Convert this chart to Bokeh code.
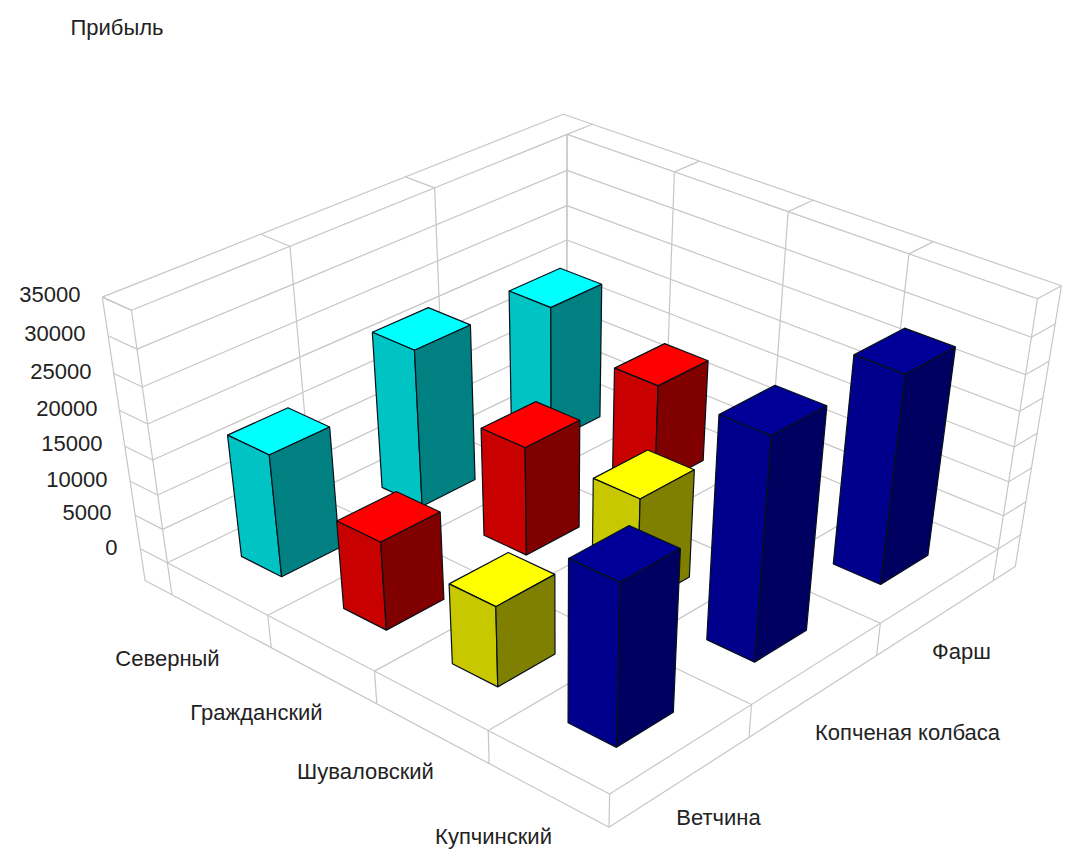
import numpy as np
from bokeh.plotting import figure
from bokeh.models import Range1d, ColumnDataSource
from bokeh.core.properties import value
from bokeh.embed import file_html
from bokeh.resources import INLINE

districts = ["Северный", "Гражданский", "Шуваловский", "Купчинский"]
products = ["Ветчина", "Копченая колбаса", "Фарш"]
z_ticks = [0, 5000, 10000, 15000, 20000, 25000, 30000, 35000]

# profit per district, one entry per product; None means no bar is drawn
severny = [17600, 22700, 20000]
grazhdansky = [12700, 15700, 15000]
shuvalovsky = [11500, 15600, None]
kupchinsky = [22700, 31000, 29500]
profit = [severny, grazhdansky, shuvalovsky, kupchinsky]

# face colours of each district's bars: top, left side, right side
cyan_faces = ["#00ffff", "#00c4c4", "#008080"]
red_faces = ["#ff0000", "#c80000", "#800000"]
yellow_faces = ["#ffff00", "#c8c800", "#808000"]
navy_faces = ["#000099", "#00008c", "#000060"]
faces = [cyan_faces, red_faces, yellow_faces, navy_faces]

# perspective camera: (district, product, height fraction, 1) -> screen
CAMERA = np.array([
    [92.4587, 158.016, -46.8702, 166.857],
    [34.2118, -47.8292, -278.452, 562.313],
    [-0.0297323, 0.0440277, -0.083664, 1.0],
])

Z_MAX = z_ticks[-1]
N_U, N_V = len(districts), len(products)
WALL_U = -0.28      # thickness of the wall behind the first district
WALL_V = N_V + 0.20 # thickness of the wall behind the last product
FLOOR = -0.14       # thickness of the floor slab
BAR = 0.20          # half width of a bar inside its cell
GRID = "#c6c6c6"
INK = "#222222"
FONT = value("Liberation Sans")
FONT_SIZE = "22px"


def project(u, v, z):
    h = CAMERA @ np.array([u, v, z, 1.0])
    return h[0] / h[2], h[1] / h[2]


p = figure(width=1076, height=850, x_range=Range1d(0, 1076), y_range=Range1d(850, 0),
           x_axis_type=None, y_axis_type=None, toolbar_location=None,
           output_backend="svg", min_border=0, outline_line_color=None,
           background_fill_color="white", border_fill_color="white")
p.grid.visible = False

# ---- walls and floor as grey wireframe
segments = []
for k in range(len(z_ticks)):
    z = k / (len(z_ticks) - 1)
    segments.append([(WALL_U, 0, z), (0, 0, z), (0, N_V, z), (N_U, N_V, z), (N_U, WALL_V, z)])
for v in range(N_V + 1):
    segments.append([(0, v, 0), (0, v, 1)])
for u in range(N_U + 1):
    segments.append([(u, N_V, 0), (u, N_V, 1)])
# wall tops with the separators between cells
segments.append([(WALL_U, 0, 1), (WALL_U, WALL_V, 1), (N_U, WALL_V, 1)])
segments.append([(0, 0, 1), (WALL_U, 0, 1)])
for v in range(1, N_V):
    segments.append([(0, v, 1), (WALL_U, v, 1)])
for u in range(0, N_U):
    segments.append([(u, N_V, 1), (u, WALL_V, 1)])
# outer wall edges down to the slab
segments.append([(WALL_U, 0, 1), (WALL_U, 0, FLOOR), (0, 0, FLOOR), (0, 0, 0)])
segments.append([(N_U, WALL_V, 1), (N_U, WALL_V, FLOOR), (N_U, N_V, FLOOR), (N_U, N_V, 0)])
# floor grid and slab edges
for u in range(1, N_U):
    segments.append([(u, 0, FLOOR), (u, 0, 0), (u, N_V, 0)])
for v in range(1, N_V):
    segments.append([(N_U, v, FLOOR), (N_U, v, 0), (0, v, 0)])
segments.append([(0, 0, 0), (N_U, 0, 0), (N_U, N_V, 0)])
segments.append([(0, 0, FLOOR), (N_U, 0, FLOOR), (N_U, N_V, FLOOR)])
segments.append([(N_U, 0, FLOOR), (N_U, 0, 0)])

grid_xs, grid_ys = [], []
for seg in segments:
    pts = [project(*a) for a in seg]
    grid_xs.append([a[0] for a in pts])
    grid_ys.append([a[1] for a in pts])
p.multi_line(grid_xs, grid_ys, line_color=GRID, line_width=1.2)

# ---- bars, back to front
cells = [(u, v) for u in range(N_U) for v in range(N_V) if profit[u][v] is not None]
cells.sort(key=lambda c: c[0] - c[1])
bx, by, bc = [], [], []
for u, v in cells:
    h = profit[u][v] / Z_MAX
    u0, u1 = u + 0.5 - BAR, u + 0.5 + BAR
    v0, v1 = v + 0.5 - BAR, v + 0.5 + BAR
    quads = [
        [(u0, v0, h), (u1, v0, h), (u1, v1, h), (u0, v1, h)],
        [(u0, v0, 0), (u1, v0, 0), (u1, v0, h), (u0, v0, h)],
        [(u1, v0, 0), (u1, v1, 0), (u1, v1, h), (u1, v0, h)],
    ]
    for quad, colour in zip(quads, faces[u]):
        pts = [project(*a) for a in quad]
        bx.append([a[0] for a in pts])
        by.append([a[1] for a in pts])
        bc.append(colour)
p.patches("x", "y", fill_color="c", line_color="#06101a", line_width=1.2,
          source=ColumnDataSource(dict(x=bx, y=by, c=bc)))

# ---- texts
tick_right = [117, 111, 107, 102, 97, 91, 85, 80]
tick_y = [547, 512, 479, 443, 408, 371, 333, 294]
p.text(tick_right, tick_y, text=[str(t) for t in z_ticks], text_align="right",
       text_baseline="middle", text_font=FONT, text_font_size=FONT_SIZE, text_color=INK)

district_x = [167, 256, 365, 493]
district_y = [658, 712, 771, 836]
p.text(district_x, district_y, text=districts, text_align="center", text_baseline="middle",
       text_font=FONT, text_font_size=FONT_SIZE, text_color=INK)

product_x = [718, 907, 961]
product_y = [817, 732, 651]
p.text(product_x, product_y, text=products, text_align="center", text_baseline="middle",
       text_font=FONT, text_font_size=FONT_SIZE, text_color=INK)

p.text([70], [27], text=["Прибыль"], text_align="left", text_baseline="middle",
       text_font=FONT, text_font_size=FONT_SIZE, text_color=INK)

open("out.html", "w").write(file_html(p, INLINE))
